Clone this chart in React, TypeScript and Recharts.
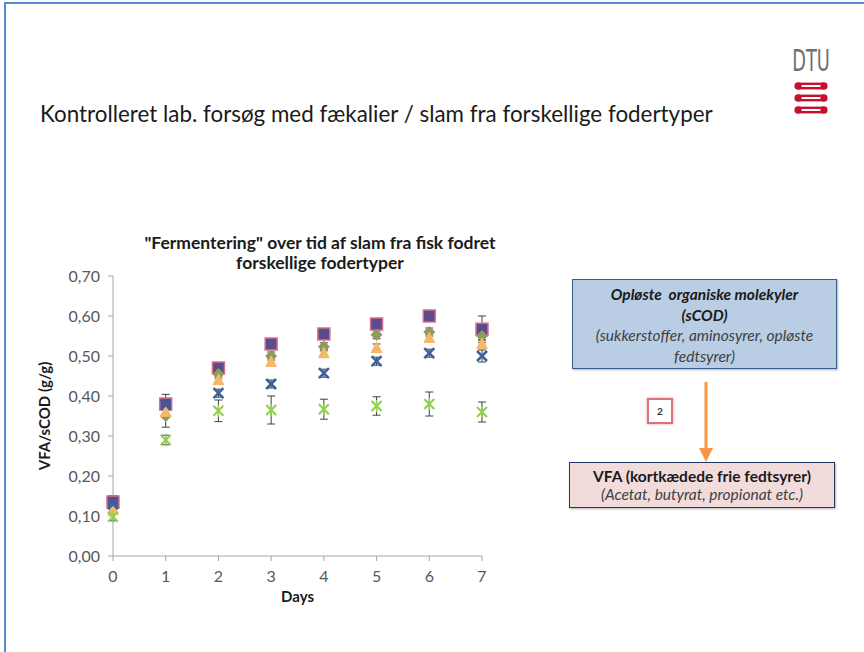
import { ScatterChart, Scatter, XAxis, YAxis, ErrorBar } from 'recharts';

// days after start
const DAYS = [0, 1, 2, 3, 4, 5, 6, 7];

// VFA/sCOD per feed type
const SQUARE_VALUES = [0.135, 0.38, 0.47, 0.53, 0.555, 0.58, 0.6, 0.567];
const SQUARE_ERR = [0.016, 0.024, 0.008, 0.008, 0.008, 0.008, 0.008, 0.033];
const DIAMOND_VALUES = [0.12, 0.35, 0.455, 0.5, 0.523, 0.553, 0.56, 0.55];
const DIAMOND_ERR = [0.01, 0.028, 0.01, 0.01, 0.01, 0.01, 0.01, 0.01];
const TRIANGLE_VALUES = [0.115, 0.36, 0.44, 0.485, 0.507, 0.52, 0.545, 0.53];
const TRIANGLE_ERR = [0.01, 0.01, 0.01, 0.01, 0.01, 0.01, 0.01, 0.01];
const CROSS_VALUES = [0.13, 0.378, 0.407, 0.43, 0.457, 0.487, 0.507, 0.5];
const CROSS_ERR = [0.01, 0.01, 0.01, 0.01, 0.01, 0.01, 0.01, 0.015];
const STAR_VALUES = [0.098, 0.29, 0.363, 0.365, 0.367, 0.375, 0.38, 0.36];
const STAR_ERR = [0.01, 0.012, 0.027, 0.035, 0.025, 0.023, 0.03, 0.025];

const Y_TICKS = [0, 0.1, 0.2, 0.3, 0.4, 0.5, 0.6, 0.7];

const toRows = (values: number[], errs: number[]) =>
  DAYS.map((d, i) => ({ day: d, v: values[i], err: errs[i] }));

const FONT = 'Lato, "Liberation Sans", sans-serif';

type P = { cx?: number; cy?: number };

const SquareMark = ({ cx = 0, cy = 0 }: P) => (
  <rect x={cx - 6} y={cy - 6} width={12} height={12} fill="#5b4a8c" stroke="#d8728a" strokeWidth={1.5} />
);
const DiamondMark = ({ cx = 0, cy = 0 }: P) => (
  <polygon points={`${cx},${cy - 6} ${cx + 6},${cy} ${cx},${cy + 6} ${cx - 6},${cy}`} fill="#8d9b5c" />
);
const TriangleMark = ({ cx = 0, cy = 0 }: P) => (
  <polygon points={`${cx},${cy - 7} ${cx + 6},${cy + 5} ${cx - 6},${cy + 5}`} fill="#f4b866" />
);
const CrossMark = ({ cx = 0, cy = 0 }: P) => (
  <g stroke="#3d5fa0" strokeWidth={2.5}>
    <line x1={cx - 5} y1={cy - 5} x2={cx + 5} y2={cy + 5} />
    <line x1={cx - 5} y1={cy + 5} x2={cx + 5} y2={cy - 5} />
  </g>
);
const StarMark = ({ cx = 0, cy = 0 }: P) => (
  <g stroke="#92d050" strokeWidth={2.2}>
    <line x1={cx - 5} y1={cy - 5} x2={cx + 5} y2={cy + 5} />
    <line x1={cx - 5} y1={cy + 5} x2={cx + 5} y2={cy - 5} />
    <line x1={cx} y1={cy - 6} x2={cx} y2={cy + 6} strokeWidth={1.5} />
  </g>
);

const fmt = (v: number) => v.toFixed(2).replace('.', ',');

const errBar = <ErrorBar dataKey="err" direction="y" width={4} strokeWidth={1} stroke="#404040" />;

function DtuLogo() {
  const bar = (y: number) => (
    <g key={y} fill="#c8102e" stroke="#c8102e">
      <line x1={4} y1={y - 2.2} x2={30} y2={y - 2.2} strokeWidth={2.4} />
      <line x1={4} y1={y + 2.2} x2={30} y2={y + 2.2} strokeWidth={2.4} />
      <ellipse cx={4} cy={y} rx={3.6} ry={3.8} stroke="none" />
      <ellipse cx={30} cy={y} rx={3.6} ry={3.8} stroke="none" />
    </g>
  );
  return (
    <>
      <div style={{ position: 'absolute', left: 781, top: 44, width: 60, textAlign: 'center', fontFamily: '"Liberation Sans Narrow", "DejaVu Sans Condensed", sans-serif', fontSize: 30, lineHeight: '34px', color: '#6f6f6f', transform: 'scaleX(0.66)' }}>
        DTU
      </div>
      <svg width={40} height={76} style={{ position: 'absolute', left: 794, top: 44 }}>
        {[42, 54, 66].map(bar)}
      </svg>
    </>
  );
}

export default function App() {
  return (
    <div style={{ position: 'absolute', left: 0, top: 0, width: 864, height: 652, background: '#fff', overflow: 'hidden', fontFamily: FONT }}>
      <div style={{ position: 'absolute', left: 4, top: 2, right: -2, bottom: -2, borderTop: '2px solid #5b8bd0', borderLeft: '2px solid #5b8bd0' }} />
      <DtuLogo />
      <div style={{ position: 'absolute', left: 40, top: 100, fontSize: 22.4, color: '#1a1a1a', whiteSpace: 'nowrap' }}>
        Kontrolleret lab. forsøg med fækalier / slam fra forskellige fodertyper
      </div>

      <div style={{ position: 'absolute', left: 70, top: 233, width: 500, textAlign: 'center', fontSize: 17.5, fontWeight: 700, lineHeight: '20px', color: '#1a1a1a', whiteSpace: 'nowrap' }}>
        "Fermentering" over tid af slam fra fisk fodret<br />forskellige fodertyper
      </div>

      <div style={{ position: 'absolute', left: 0, top: 220 }}>
        <ScatterChart width={520} height={400} margin={{ top: 56, right: 38, bottom: 34, left: 23 }}>
          <XAxis type="number" dataKey="day" domain={[0, 7]} ticks={DAYS} tickSize={5} tickMargin={10}
            stroke="#a6a6a6" tick={{ fill: '#595959', fontSize: 16, fontFamily: FONT }} height={30}
            label={{ value: 'Days', position: 'insideBottom', offset: -16, fill: '#1a1a1a', fontSize: 15, fontWeight: 700, fontFamily: FONT }} />
          <YAxis type="number" dataKey="v" domain={[0, 0.7]} ticks={Y_TICKS} tickFormatter={fmt} tickSize={5} tickMargin={8}
            stroke="#a6a6a6" tick={{ fill: '#595959', fontSize: 16, fontFamily: FONT }} width={90}
            label={{ value: 'VFA/sCOD (g/g)', angle: -90, position: 'insideLeft', offset: 22, fill: '#1a1a1a', fontSize: 15, fontWeight: 700, fontFamily: FONT, style: { textAnchor: 'middle' } }} />
          <Scatter data={toRows(SQUARE_VALUES, SQUARE_ERR)} dataKey="v" shape={SquareMark} isAnimationActive={false}>{errBar}</Scatter>
          <Scatter data={toRows(DIAMOND_VALUES, DIAMOND_ERR)} dataKey="v" shape={DiamondMark} isAnimationActive={false}>{errBar}</Scatter>
          <Scatter data={toRows(TRIANGLE_VALUES, TRIANGLE_ERR)} dataKey="v" shape={TriangleMark} isAnimationActive={false}>{errBar}</Scatter>
          <Scatter data={toRows(CROSS_VALUES, CROSS_ERR)} dataKey="v" shape={CrossMark} isAnimationActive={false}>{errBar}</Scatter>
          <Scatter data={toRows(STAR_VALUES, STAR_ERR)} dataKey="v" shape={StarMark} isAnimationActive={false}>{errBar}</Scatter>
        </ScatterChart>
      </div>

      <div style={{ position: 'absolute', left: 572, top: 279, width: 263, height: 88, background: '#b9cde5', border: '1.5px solid #385d8a', textAlign: 'center', fontSize: 15.5, lineHeight: '20.5px', color: '#1a1a1a', fontStyle: 'italic', boxShadow: '1px 1px 2px rgba(0,0,0,0.3)', whiteSpace: 'nowrap' }}>
        <div style={{ marginTop: 4, fontWeight: 700 }}>Opløste&nbsp; organiske molekyler</div>
        <div style={{ fontWeight: 700 }}>(sCOD)</div>
        <div style={{ color: '#404040' }}>(sukkerstoffer, aminosyrer, opløste</div>
        <div style={{ color: '#404040' }}>fedtsyrer)</div>
      </div>

      <svg width={20} height={82} style={{ position: 'absolute', left: 696, top: 382 }}>
        <line x1={10} y1={0} x2={10} y2={68} stroke="#f79646" strokeWidth={3} />
        <polygon points="3,66 17,66 10,80" fill="#f79646" />
      </svg>

      <div style={{ position: 'absolute', left: 647, top: 398, width: 22, height: 22, border: '2px solid #d9747a', boxShadow: '0 0 3px #e8a0a4', background: '#fff', textAlign: 'center', fontSize: 10, lineHeight: '22px', color: '#333', fontWeight: 700 }}>
        2
      </div>

      <div style={{ position: 'absolute', left: 569, top: 462, width: 264, height: 44, background: '#f2dcdb', border: '1.5px solid #1f3864', textAlign: 'center', fontSize: 15.5, lineHeight: '18px', color: '#1a1a1a', boxShadow: '1px 1px 2px rgba(0,0,0,0.3)', whiteSpace: 'nowrap' }}>
        <div style={{ marginTop: 4, fontWeight: 700 }}>VFA (kortkædede frie fedtsyrer)</div>
        <div style={{ fontStyle: 'italic', color: '#404040' }}>(Acetat, butyrat, propionat etc.)</div>
      </div>
    </div>
  );
}
